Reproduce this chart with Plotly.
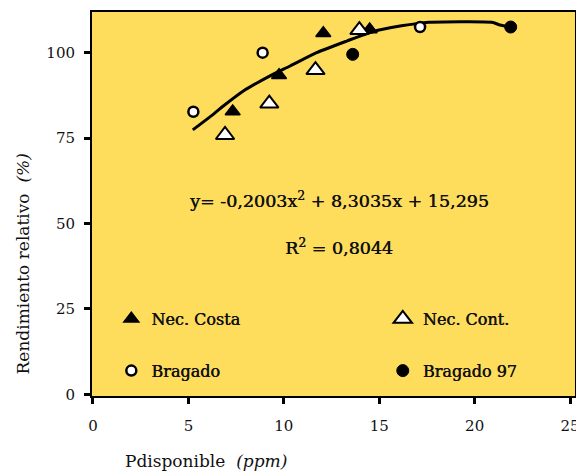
import plotly.graph_objects as go

# ---- data ----
nec_costa_x = [7.32, 9.75, 12.07, 14.5]
nec_costa_y = [82.8, 93.4, 105.7, 106.8]

nec_cont_x = [6.92, 9.24, 11.66, 13.96]
nec_cont_y = [75.9, 85.1, 94.9, 106.6]

bragado_x = [5.26, 8.89, 17.14]
bragado_y = [82.7, 100.0, 107.5]

bragado97_x = [13.61, 21.89]
bragado97_y = [99.5, 107.5]

curve_x = [5.23, 6.13, 6.83, 7.88, 9.28, 10.33, 11.72, 13.3, 14.69, 16.09, 17.14, 17.6, 20.9, 21.33, 21.89]
curve_y = [77.4, 81.2, 84.4, 88.8, 93.2, 96.1, 100.0, 103.4, 106.2, 107.8, 108.6, 108.9, 108.9, 108.1, 107.5]

x_ticks = [0, 5, 10, 15, 20, 25]
y_ticks = [0, 25, 50, 75, 100]

equation_text = "y= -0,2003x<sup>2</sup> + 8,3035x + 15,295"
r2_text = "R<sup>2</sup> = 0,8044"
x_title = "Pdisponible  <i>(ppm)</i>"
y_title = "Rendimiento relativo  <i>(%)</i>"

SERIF = "DejaVu Serif"
INK = "#111111"
HEAVY = "0.45px 0 0 #111111"

fig = go.Figure()

fig.add_trace(go.Scatter(x=curve_x, y=curve_y, mode="lines",
                         line=dict(color="black", width=3, shape="spline", smoothing=0.6),
                         showlegend=False, hoverinfo="skip"))

fig.add_trace(go.Scatter(x=nec_costa_x, y=nec_costa_y, mode="markers", name="Nec. Costa",
                         marker=dict(symbol="triangle-up", size=13, color="black",
                                     line=dict(color="black", width=1.5)),
                         legend="legend", legendgroup="a"))
fig.add_trace(go.Scatter(x=bragado_x, y=bragado_y, mode="markers", name="Bragado",
                         marker=dict(symbol="circle", size=10, color="white",
                                     line=dict(color="black", width=2.5)),
                         legend="legend", legendgroup="b"))
fig.add_trace(go.Scatter(x=nec_cont_x, y=nec_cont_y, mode="markers", name="Nec. Cont.",
                         marker=dict(symbol="triangle-up", size=16, color="white",
                                     line=dict(color="black", width=2)),
                         legend="legend2", legendgroup="c"))
fig.add_trace(go.Scatter(x=bragado97_x, y=bragado97_y, mode="markers", name="Bragado 97",
                         marker=dict(symbol="circle", size=12, color="black",
                                     line=dict(color="black", width=1)),
                         legend="legend2", legendgroup="d"))

axis_common = dict(showgrid=False, zeroline=False, showline=True, linecolor="black",
                   linewidth=2, mirror=True, ticks="outside", ticklen=6, tickwidth=3,
                   tickcolor="black", tickfont=dict(family=SERIF, size=15, color=INK))

fig.update_xaxes(range=[-0.052, 25.26], tickvals=x_ticks, ticklabelstandoff=9, **axis_common)
fig.update_yaxes(range=[-0.5, 111.9], tickvals=y_ticks, ticklabelstandoff=6, **axis_common)

legend_common = dict(bgcolor="rgba(0,0,0,0)", borderwidth=0, orientation="v",
                     font=dict(family=SERIF, size=16, color=INK, shadow=HEAVY),
                     tracegroupgap=28, traceorder="grouped", xanchor="left", yanchor="top",
                     itemclick=False, itemdoubleclick=False)

# page has an 8px body margin; figure is sized so the plot box lands where the reference has it
fig.update_layout(
    width=576, height=465,
    margin=dict(l=84, r=9, t=2, b=77),
    paper_bgcolor="white",
    plot_bgcolor="#FFDD5C",
    legend=dict(x=0.04, y=0.245, **legend_common),
    legend2=dict(x=0.602, y=0.245, **legend_common),
    annotations=[
        dict(text=equation_text, xref="paper", yref="paper", x=0.512, y=0.51,
             showarrow=False, font=dict(family=SERIF, size=17.5, color=INK, shadow=HEAVY)),
        dict(text=r2_text, xref="paper", yref="paper", x=0.512, y=0.387,
             showarrow=False, font=dict(family=SERIF, size=17.5, color=INK, shadow=HEAVY)),
        dict(text=x_title, xref="paper", yref="paper", x=0.236, y=-0.17,
             xanchor="center", yanchor="middle",
             showarrow=False, font=dict(family=SERIF, size=17, color=INK)),
        dict(text=y_title, xref="paper", yref="paper", x=-0.143, y=0.345, textangle=-90,
             xanchor="center", yanchor="middle",
             showarrow=False, font=dict(family=SERIF, size=17, color=INK)),
    ],
)

fig.write_html("out.html")
